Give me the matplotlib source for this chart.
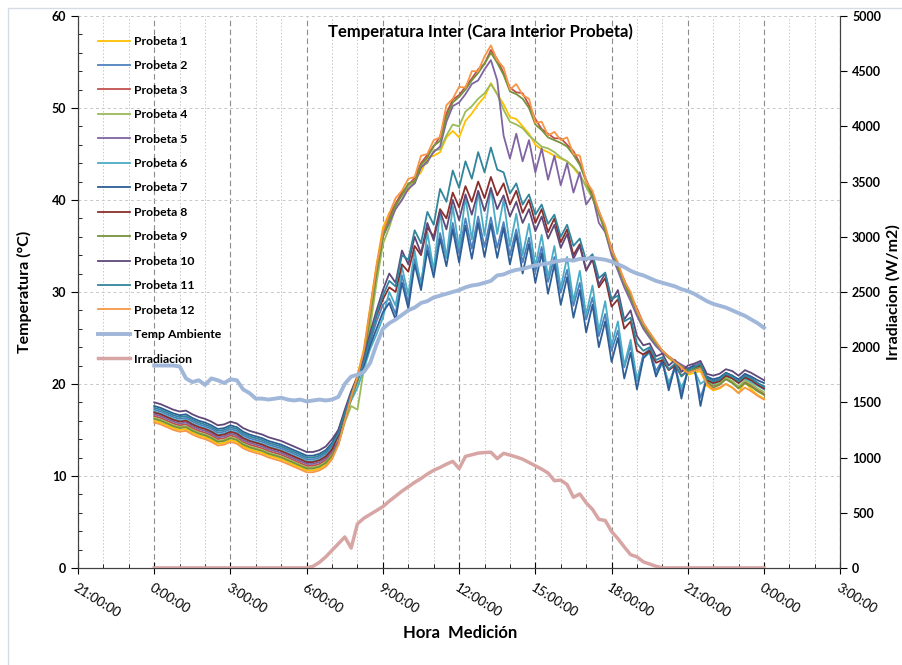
import numpy as np
import matplotlib.pyplot as plt
from matplotlib.patches import Rectangle
from matplotlib.ticker import MultipleLocator, FuncFormatter

plt.rcParams['font.family'] = ['Lato', 'DejaVu Sans']

# time of day in hours, one reading every 15 min (0:00 ... 24:00)
hours = np.arange(97) * 0.25

probeta_1 = [16.0, 15.8, 15.5, 15.2, 15.0, 15.1, 14.7, 14.4, 14.2, 13.9, 13.5, 13.6, 13.9, 13.7, 13.2, 12.9,
             12.7, 12.5, 12.2, 12.0, 11.8, 11.5, 11.2, 10.9, 10.6, 10.6, 10.8, 11.2, 12.0,
             13.8, 16.4, 19.0, 21.0, 23.8, 28.4, 33.0, 37.0,
             38.6, 39.5, 40.8, 41.0, 42.3, 43.0, 44.6, 44.8, 45.2, 46.8, 47.5, 46.8, 48.6, 49.4, 50.4, 51.2,
             52.7, 51.5, 50.4, 49.0, 48.8, 48.0, 47.2, 46.0, 45.5, 45.2, 44.8, 44.5, 44.2, 43.5, 42.6, 41.6,
             40.2, 38.5, 37.0, 34.6, 32.8, 31.2, 29.6, 28.0,
             26.4, 25.4, 24.4, 23.5, 22.8, 22.2, 21.6, 21.0, 21.2, 21.4, 19.8, 19.3, 19.5, 20.0, 19.6, 19.0,
             20.2, 19.4, 18.8, 18.4]
probeta_2 = [17.2, 17.0, 16.7, 16.4, 16.2, 16.3, 15.9, 15.6, 15.4, 15.1, 14.7, 14.8, 15.1, 14.9, 14.4, 14.1,
             13.9, 13.7, 13.4, 13.2, 13.0, 12.7, 12.4, 12.1, 11.8, 11.8, 12.0, 12.4, 13.2,
             14.6, 16.8, 18.8, 20.4, 22.2, 24.6, 26.8, 28.6,
             29.3, 27.6, 31.8, 28.8, 33.6, 31.0, 35.1, 32.5, 36.4, 33.7, 37.5, 34.2, 38.0, 34.7, 38.2, 34.9,
             38.1, 34.8, 37.6, 34.0, 36.8, 33.2, 35.9, 32.2, 34.9, 31.1, 33.8, 29.9, 32.4, 28.5, 31.0, 27.0,
             29.4, 25.2, 27.6, 23.6, 25.8, 21.8, 24.2, 20.3,
             23.2, 23.8, 21.4, 22.6, 19.8, 22.0, 19.0, 21.4, 21.8, 18.5, 20.6, 20.2, 20.4, 21.0, 20.7, 20.2,
             20.8, 20.4, 20.0, 19.6]
probeta_3 = [16.5, 16.3, 16.0, 15.7, 15.5, 15.6, 15.2, 14.9, 14.7, 14.4, 14.0, 14.1, 14.4, 14.2, 13.7, 13.4,
             13.2, 13.0, 12.7, 12.5, 12.3, 12.0, 11.7, 11.4, 11.1, 11.1, 11.3, 11.7, 12.5,
             13.6, 16.2, 18.8, 20.8, 23.4, 28.0, 32.6, 36.4,
             38.2, 39.6, 40.8, 41.6, 42.4, 44.0, 44.9, 45.8, 46.9, 49.4, 50.9, 51.4, 52.3, 53.2, 54.2, 54.8,
             56.3, 55.3, 53.8, 52.2, 51.7, 51.6, 50.3, 48.8, 47.7, 47.2, 46.7, 46.7, 46.0, 45.3, 44.0, 42.2,
             40.6, 38.8, 36.8, 34.8, 32.8, 31.3, 29.6, 28.2,
             26.6, 25.5, 24.5, 23.6, 23.0, 22.5, 22.0, 21.5, 21.7, 21.9, 20.3, 19.8, 20.0, 20.6, 20.2, 19.6,
             20.2, 19.8, 19.3, 18.9]
probeta_4 = [16.3, 16.1, 15.8, 15.5, 15.3, 15.4, 15.0, 14.7, 14.5, 14.2, 13.8, 13.9, 14.2, 14.0, 13.5, 13.2,
             13.0, 12.8, 12.5, 12.3, 12.1, 11.8, 11.5, 11.2, 10.9, 10.9, 11.1, 11.5, 12.3,
             13.4, 15.8, 17.6, 17.2, 21.6, 26.2, 31.0, 35.2,
             37.0, 39.2, 40.0, 41.5, 41.8, 43.6, 44.0, 45.4, 45.5, 47.0, 48.2, 48.0, 49.6, 50.2, 51.0, 51.6,
             52.6, 51.5, 49.8, 48.5, 48.2, 47.8, 47.0, 46.4, 45.8, 45.6, 45.2, 44.6, 44.2, 43.6, 42.8, 41.4,
             40.2, 38.4, 36.6, 34.4, 32.6, 31.0, 29.4, 27.8,
             26.2, 25.2, 24.3, 23.5, 22.9, 22.4, 21.9, 21.4, 21.7, 21.9, 20.4, 19.9, 20.1, 20.7, 20.3, 19.7,
             20.4, 20.0, 19.5, 19.1]
probeta_5 = [16.7, 16.5, 16.2, 15.9, 15.7, 15.8, 15.4, 15.1, 14.9, 14.6, 14.2, 14.3, 14.6, 14.4, 13.9, 13.6,
             13.4, 13.2, 12.9, 12.7, 12.5, 12.2, 11.9, 11.6, 11.3, 11.3, 11.5, 11.9, 12.7,
             13.8, 16.3, 18.6, 20.6, 23.0, 27.6, 32.2, 36.0,
             37.5, 39.0, 40.0, 41.2, 41.8, 43.5, 44.2, 45.2, 45.8, 48.5, 50.2, 50.6, 51.5, 52.6, 53.0, 54.2,
             55.2, 53.0, 47.0, 44.5, 47.2, 44.2, 46.5, 43.0, 45.6, 42.2, 44.8, 41.6, 44.0, 40.8, 43.0, 39.5,
             40.5, 37.5, 36.5, 34.0, 32.3, 30.5, 29.0, 27.4,
             26.0, 25.0, 24.1, 23.4, 22.9, 22.5, 22.1, 21.7, 22.0, 22.3, 20.8, 20.4, 20.6, 21.2, 20.9, 20.4,
             21.0, 20.6, 20.1, 19.7]
probeta_6 = [17.0, 16.8, 16.5, 16.2, 16.0, 16.1, 15.7, 15.4, 15.2, 14.9, 14.5, 14.6, 14.9, 14.7, 14.2, 13.9,
             13.7, 13.5, 13.2, 13.0, 12.8, 12.5, 12.2, 11.9, 11.6, 11.6, 11.8, 12.2, 13.0,
             14.4, 16.4, 18.2, 19.6, 21.6, 23.8, 25.4, 27.2,
             30.0, 28.5, 32.7, 29.7, 34.5, 30.5, 36.5, 32.3, 38.7, 33.7, 39.3, 34.8, 40.3, 35.7, 40.9, 36.1,
             41.3, 36.3, 40.0, 35.0, 38.5, 34.0, 37.4, 32.8, 36.2, 31.6, 35.0, 30.4, 33.8, 29.0, 32.3, 27.5,
             30.7, 25.8, 29.0, 24.2, 26.8, 22.0, 24.8, 20.4,
             22.8, 23.4, 21.0, 22.2, 20.2, 21.6, 19.6, 21.2, 21.5, 20.0, 20.5, 20.0, 20.3, 20.9, 20.6, 20.1,
             20.6, 20.2, 19.8, 19.4]
probeta_7 = [17.6, 17.4, 17.1, 16.8, 16.6, 16.7, 16.3, 16.0, 15.8, 15.5, 15.1, 15.2, 15.5, 15.3, 14.8, 14.5,
             14.3, 14.1, 13.8, 13.6, 13.4, 13.1, 12.8, 12.5, 12.2, 12.2, 12.4, 12.8, 13.6,
             15.0, 17.0, 18.9, 20.5, 22.0, 24.2, 26.0, 27.8,
             28.8, 27.0, 31.0, 28.2, 33.0, 30.2, 34.5, 31.6, 35.8, 32.8, 36.8, 33.2, 37.2, 33.6, 37.5, 33.8,
             37.4, 33.7, 37.0, 33.0, 36.2, 32.0, 35.2, 31.0, 34.2, 29.8, 33.0, 28.6, 31.6, 27.2, 30.2, 25.6,
             28.6, 24.0, 26.8, 22.4, 25.0, 20.6, 23.4, 19.4,
             22.8, 23.6, 20.8, 22.5, 19.3, 22.0, 18.4, 21.6, 22.0, 17.6, 20.8, 20.5, 20.7, 21.2, 20.9, 20.5,
             21.1, 20.8, 20.4, 20.1]
probeta_8 = [16.9, 16.7, 16.4, 16.1, 15.9, 16.0, 15.6, 15.3, 15.1, 14.8, 14.4, 14.5, 14.8, 14.6, 14.1, 13.8,
             13.6, 13.4, 13.1, 12.9, 12.7, 12.4, 12.1, 11.8, 11.5, 11.5, 11.7, 12.1, 12.9,
             14.4, 16.6, 18.8, 20.6, 22.6, 25.2, 27.4, 29.2,
             30.5, 30.0, 33.0, 32.2, 35.0, 34.0, 37.0, 36.0, 39.0, 38.0, 40.8, 39.2, 41.5, 39.8, 42.0, 40.2,
             42.5, 40.5, 41.8, 39.5, 41.0, 38.6, 40.0, 37.5, 39.0, 36.5, 38.0, 35.4, 36.8, 34.0, 35.2, 32.4,
             33.5, 30.5, 31.5, 28.4, 29.2, 26.0, 26.8, 23.6,
             23.2, 23.6, 22.3, 22.6, 21.5, 22.0, 20.9, 21.4, 21.7, 22.0, 20.4, 20.1, 20.3, 20.9, 20.6, 20.1,
             20.7, 20.4, 19.9, 19.5]
probeta_9 = [16.2, 16.0, 15.7, 15.4, 15.2, 15.3, 14.9, 14.6, 14.4, 14.1, 13.7, 13.8, 14.1, 13.9, 13.4, 13.1,
             12.9, 12.7, 12.4, 12.2, 12.0, 11.7, 11.4, 11.1, 10.8, 10.8, 11.0, 11.4, 12.2,
             13.5, 16.0, 18.4, 20.2, 22.8, 27.4, 32.0, 36.0,
             37.8, 39.4, 40.5, 41.8, 42.0, 43.8, 44.6, 45.9, 46.4, 49.0, 50.6, 51.2, 52.0, 53.0, 53.8, 54.8,
             56.0, 54.9, 53.6, 51.8, 51.5, 51.0, 50.0, 48.2, 47.6, 46.8, 46.5, 46.2, 45.8, 44.9, 43.8, 42.0,
             40.3, 38.6, 36.6, 34.5, 32.7, 31.0, 29.4, 27.9,
             26.3, 25.3, 24.4, 23.6, 22.9, 22.4, 21.9, 21.4, 21.6, 21.8, 20.2, 19.6, 19.9, 20.5, 20.1, 19.5,
             20.1, 19.7, 19.2, 18.8]
probeta_10 = [18.0, 17.8, 17.5, 17.2, 17.0, 17.1, 16.7, 16.4, 16.2, 15.9, 15.5, 15.6, 15.9, 15.7, 15.2, 14.9,
              14.7, 14.5, 14.2, 14.0, 13.8, 13.5, 13.2, 12.9, 12.6, 12.6, 12.8, 13.2, 14.0,
              15.0, 17.2, 19.2, 20.8, 22.8, 25.6, 28.0, 30.2,
              32.0, 31.0, 34.5, 33.0, 36.0, 34.2, 37.5, 35.6, 38.8, 36.8, 40.0, 37.8, 40.6, 38.4, 41.0, 38.8,
              41.3, 39.0, 40.5, 38.2, 39.8, 37.5, 39.0, 36.6, 38.2, 35.8, 37.3, 34.8, 36.3, 33.6, 35.0, 32.3,
              33.7, 30.8, 32.0, 29.0, 30.2, 27.0, 28.0, 25.2,
              24.2, 24.4, 23.0, 23.3, 22.0, 22.6, 21.3, 22.0, 22.2, 22.5, 21.1, 20.9, 21.1, 21.6, 21.4, 20.9,
              21.5, 21.2, 20.8, 20.4]
probeta_11 = [17.4, 17.2, 16.9, 16.6, 16.4, 16.5, 16.1, 15.8, 15.6, 15.3, 14.9, 15.0, 15.3, 15.1, 14.6, 14.3,
              14.1, 13.9, 13.6, 13.4, 13.2, 12.9, 12.6, 12.3, 12.0, 12.0, 12.2, 12.6, 13.4,
              14.6, 16.8, 18.9, 20.5, 22.4, 25.0, 27.6, 29.6,
              31.2, 30.6, 34.0, 33.5, 36.7, 35.3, 38.7, 37.3, 41.2, 39.8, 43.2, 41.3, 44.2, 42.3, 45.2, 43.0,
              45.7, 43.3, 43.0, 40.7, 41.8, 39.5, 40.6, 38.4, 39.5, 37.4, 38.4, 36.0, 37.3, 35.0, 35.8, 33.4,
              34.1, 31.5, 32.1, 29.2, 29.6, 26.8, 27.2, 24.4,
              23.6, 24.0, 22.6, 22.9, 21.6, 22.2, 20.8, 21.5, 21.8, 22.2, 20.6, 20.3, 20.5, 21.1, 20.8, 20.3,
              20.9, 20.6, 20.1, 19.7]
probeta_12 = [15.8, 15.6, 15.3, 15.0, 14.8, 14.9, 14.5, 14.2, 14.0, 13.7, 13.3, 13.4, 13.7, 13.5, 13.0, 12.7,
              12.5, 12.3, 12.0, 11.8, 11.6, 11.3, 11.0, 10.7, 10.4, 10.4, 10.6, 11.0, 11.8,
              13.4, 16.0, 18.6, 20.8, 23.6, 28.2, 32.8, 36.6,
              38.5, 40.2, 41.0, 42.3, 42.5, 44.8, 45.0, 46.5, 46.8, 50.3, 51.0, 52.3, 52.2, 54.0, 54.0, 55.6,
              56.8, 55.2, 54.4, 52.0, 52.6, 51.4, 51.0, 48.4, 48.5, 47.0, 47.4, 46.5, 46.8, 45.0, 44.8, 42.0,
              41.0, 38.8, 37.2, 34.6, 33.2, 31.2, 30.0, 28.0,
              26.6, 25.6, 24.6, 23.6, 23.0, 22.4, 21.8, 21.2, 21.4, 21.6, 20.0, 19.4, 19.6, 20.0, 19.6, 19.0,
              19.6, 19.2, 18.7, 18.3]

temp_ambiente = [22.0, 22.0, 22.0, 22.0, 21.9, 20.6, 20.2, 20.4, 19.9, 20.6, 20.4, 20.1,
                 20.5, 20.4, 19.4, 19.0, 18.4, 18.4, 18.3, 18.4, 18.5, 18.3, 18.2, 18.3,
                 18.1, 18.2, 18.3, 18.2, 18.3, 18.6, 20.0, 20.8, 21.0, 21.3, 22.3, 24.3,
                 26.0, 26.6, 27.0, 27.5, 28.0, 28.3, 28.8, 29.0, 29.4, 29.6, 29.8, 30.0,
                 30.2, 30.5, 30.7, 30.8, 31.0, 31.2, 31.8, 31.9, 32.2, 32.4, 32.5, 32.7,
                 32.9, 33.0, 33.1, 33.3, 33.4, 33.5, 33.4, 33.6, 33.6, 33.7, 33.6, 33.5,
                 33.3, 33.0, 32.7, 32.3, 32.0, 31.8, 31.5, 31.2, 31.0, 30.8, 30.6, 30.3,
                 30.1, 29.8, 29.4, 29.0, 28.7, 28.5, 28.3, 28.0, 27.7, 27.4, 27.0, 26.6,
                 26.1]

irradiacion = [0, 0, 0, 0, 0, 0, 0, 0, 0, 0, 0, 0,
               0, 0, 0, 0, 0, 0, 0, 0, 0, 0, 0, 0,
               0, 15, 50, 100, 160, 220, 280, 180, 400, 450, 485, 520,
               555, 605, 650, 695, 735, 775, 810, 850, 885, 910, 940, 965,
               900, 1010, 1025, 1040, 1045, 1048, 990, 1038, 1022, 1005, 985, 955,
               925, 895, 860, 790, 795, 755, 640, 670, 590, 530, 440, 430,
               330, 265, 190, 120, 100, 55, 35, 15, 0, 0, 0, 0,
               0, 0, 0, 0, 0, 0, 0, 0, 0, 0, 0, 0,
               0]

probetas = [probeta_1, probeta_2, probeta_3, probeta_4, probeta_5, probeta_6,
            probeta_7, probeta_8, probeta_9, probeta_10, probeta_11, probeta_12]
colores = ["#FFC000", "#4F81BD", "#C0504D", "#9BBB59", "#8064A2", "#4BACC6",
           "#2E5E95", "#8B2E2B", "#76923C", "#5F497A", "#31859C", "#F79646"]

fig = plt.figure(figsize=(9.02, 6.65), dpi=100)
ax = fig.add_axes([0.0865, 0.146, 0.845, 0.830])
ax2 = ax.twinx()

for i, (vals, c) in enumerate(zip(probetas, colores)):
    ax.plot(hours, vals, color=c, lw=1.3, label=f"Probeta {i + 1}")
ax.plot(hours, temp_ambiente, color="#A0B7D9", lw=2.8, label="Temp Ambiente")
ax2.plot(hours, irradiacion, color="#D7A5A4", lw=2.5, label="Irradiacion")

ax.set_xlim(-3, 27)
ax.set_ylim(0, 60)
ax2.set_ylim(0, 5000)

ax.xaxis.set_major_locator(MultipleLocator(3))
ax.xaxis.set_minor_locator(MultipleLocator(1))
ax.xaxis.set_major_formatter(FuncFormatter(lambda v, p: f"{int(round(v)) % 24}:00:00"))
ax.yaxis.set_major_locator(MultipleLocator(10))
ax.yaxis.set_minor_locator(MultipleLocator(2))
ax2.yaxis.set_major_locator(MultipleLocator(500))

ax.grid(which="major", axis="x", ls=(0, (5, 3)), color="#8C8C8C", lw=0.8)
ax.grid(which="minor", axis="x", ls=(0, (1.5, 2)), color="#C8C8C8", lw=0.7)
ax.grid(which="major", axis="y", ls=(0, (3, 3)), color="#C8C8C8", lw=0.7)
ax.set_axisbelow(True)

for a in (ax, ax2):
    a.spines["top"].set_visible(False)
    for s in ("left", "right", "bottom"):
        a.spines[s].set_color("#404040")

ax.tick_params(axis="x", which="major", direction="inout", length=8, pad=6)
ax.tick_params(axis="x", which="minor", direction="in", length=3)
ax.tick_params(axis="y", which="major", direction="out", length=5, labelsize=9)
ax.tick_params(axis="y", which="minor", direction="in", length=3)
ax2.tick_params(axis="y", which="major", direction="out", length=5, labelsize=9)
for lab in ax.get_yticklabels() + ax2.get_yticklabels():
    lab.set_fontweight("bold")
for lab in ax.get_xticklabels():
    lab.set_rotation(-32)
    lab.set_ha("left")
    lab.set_va("top")
    lab.set_rotation_mode("anchor")
    lab.set_fontsize(9.5)

ax.text(0.528, 0.971, "Temperatura Inter (Cara Interior Probeta)", transform=ax.transAxes,
        ha="center", va="center", fontsize=12, fontweight="bold")
ax.set_ylabel("Temperatura (°C)", fontsize=11.5, fontweight="bold", labelpad=14)
ax2.set_ylabel("Irradiacion (W/m2)", fontsize=11.5, fontweight="bold")
ax2.yaxis.set_label_coords(1.06, 0.5)
fig.text(0.51, 0.048, "Hora  Medición", ha="center", va="center", fontsize=12, fontweight="bold")

h1, l1 = ax.get_legend_handles_labels()
h2, l2 = ax2.get_legend_handles_labels()
ax2.legend(h1 + h2, l1 + l2, loc="upper left", bbox_to_anchor=(0.012, 0.984), frameon=False,
           prop={"weight": "bold", "size": 8.8}, labelspacing=1.1, handlelength=2.6,
           handletextpad=0.3)

fig.patches.append(Rectangle((8 / 902, -0.05), 1.2, 0.988 + 0.05, transform=fig.transFigure,
                             fill=False, edgecolor="#D5DCE6", lw=1))

fig.savefig("out.png", dpi=100)
